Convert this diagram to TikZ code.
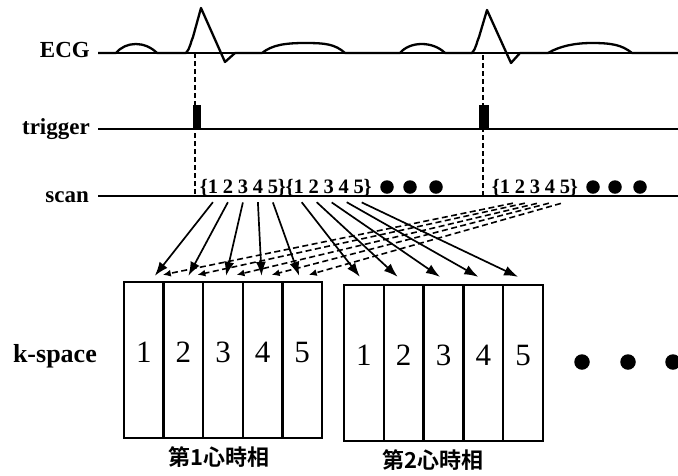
\documentclass[tikz,border=0pt]{standalone}
\usepackage{fontspec}
\setmainfont{Liberation Serif}
\newfontfamily\cjk{Noto Sans CJK JP}[BoldFont={Noto Sans CJK JP Bold}]
\usetikzlibrary{arrows.meta,calc}
\begin{document}
\begin{tikzpicture}[x=1pt,y=-1pt,
  axis/.style={line width=2pt},
  wave/.style={line width=2.3pt, line join=round},
  vdash/.style={line width=1.5pt, dash pattern=on 5pt off 3pt},
  lbl/.style={font=\fontsize{23}{26}\selectfont\bfseries, inner sep=0pt, anchor=base east},
  dig/.style={font=\fontsize{20.5}{24}\selectfont\bfseries, inner xsep=0pt, inner ysep=9pt, anchor=base},
  sarrow/.style={line width=1.7pt, -{Latex[length=14pt,width=10pt]}},
  darrow/.style={line width=1.6pt, dash pattern=on 6pt off 3.5pt, -{Latex[length=8pt,width=7pt]}},
  col/.style={draw, line width=2.3pt, minimum width=39.6pt, minimum height=156pt, inner sep=0pt},
  kdig/.style={font=\fontsize{31}{34}\selectfont, inner sep=0pt},
  cj/.style={font=\cjk\bfseries\fontsize{22}{24}\selectfont, inner sep=0pt},
  pulse/.style={fill, inner sep=0pt, minimum height=24pt, anchor=south},
  blob/.style={circle, fill, inner sep=0pt, minimum size=14pt}]
\useasboundingbox (0,0) rectangle (678,475);

% labels
\node[lbl] (lecg) at (90,57) {ECG};
\node[lbl] (ltrig) at (90,134) {trigger};
\node[lbl] (lscan) at (89,202) {scan};
\node[lbl, font=\fontsize{26}{30}\selectfont\bfseries] (lk) at (97,362) {k-space};

% ECG
\draw[axis] (98,53) -- (678,53);
\draw[wave] (98,53) -- (116,53) .. controls (126,41) and (145,41) .. (157,53)
  -- (186,53) .. controls (190,49) and (191,41) .. (193,37) -- (201,8) -- (225,62) -- (235,53)
  -- (262,53) .. controls (272,45) and (285,43) .. (305,43) .. controls (325,43) and (335,44) .. (345,53)
  -- (400,53) .. controls (410,41) and (433,41) .. (445,53)
  -- (472,53) .. controls (476,49) and (477,41) .. (479,37) -- (487,10) -- (511,63) -- (520,53)
  -- (548,53) .. controls (560,46) and (575,43) .. (592,43) .. controls (612,43) and (622,45) .. (632,53)
  -- (678,53);

% trigger
\draw[axis] (98,129) -- (678,129);
\node[pulse, minimum width=8pt] (tr1) at (197,129) {};
\node[pulse, minimum width=10pt] (tr2) at (484,129) {};

% scan
\draw[axis] (98,196) -- (678,196);
\draw[vdash] (195,53) -- (195,196);
\draw[vdash] (483,55) -- (483,196);

\node[dig] (oa) at (204,193) {\{};
\foreach \i in {1,...,5} \node[dig] (a\i) at ({197.9+15*\i},193) {\i};
\node[dig] (ca) at (281.8,193) {\}};
\node[dig] (ob) at (289.7,193) {\{};
\foreach \i in {1,...,5} \node[dig] (b\i) at ({283.7+15*\i},193) {\i};
\node[dig] (cb) at (367.7,193) {\}};
\node[dig] (oc) at (495.9,193) {\{};
\foreach \i in {1,...,5} \node[dig] (c\i) at ({489.9+15*\i},193) {\i};
\node[dig] (cc) at (573.9,193) {\}};

\node[blob, minimum size=13.5pt] (s1) at (387,187) {};
\node[blob, minimum size=13.5pt] (s2) at (410,187) {};
\node[blob, minimum size=13.5pt] (s3) at (436,187) {};
\node[blob, minimum size=13.5pt] (s4) at (593,187) {};
\node[blob, minimum size=13.5pt] (s5) at (615,187) {};
\node[blob, minimum size=13.5pt] (s6) at (640,187) {};

% k-space
\foreach \i in {1,...,5} {
  \node[col] (k\i) at ({124+39.6*(\i-0.5)},360) {};
  \node[kdig] (kd\i) at ($(k\i.center)+(0,-8)$) {\i};
  \node[col, minimum width=39.8pt] (m\i) at ({344+39.8*(\i-0.5)},363) {};
  \node[kdig] (md\i) at ($(m\i.center)+(0,-8)$) {\i};
}
\node[blob, minimum size=15.5pt] (e1) at (582,362) {};
\node[blob, minimum size=15.5pt] (e2) at (628,362) {};
\node[blob, minimum size=15.5pt] (e3) at (673,362) {};

\node[cj] (p1) at (219,457) {第1心時相};
\node[cj] (p2) at (433,460) {第2心時相};

% arrows
\foreach \i/\dx in {1/11,2/5,3/3,4/-1,5/-3}
  \draw[sarrow] (a\i.south) -- ($(k\i.north)+(\dx,-5)$);
\foreach \i/\dx in {1/-4,2/-6,3/-3.5,4/-5,5/-5}
  \draw[sarrow] ([xshift=3pt]b\i.south) -- ($(m\i.north)+(\dx,-7)$);
\foreach \i/\sx/\dx in {1/8/19,2/5/14,3/2/13.5,4/-1/9,5/-4/6.5}
  \draw[darrow] ($(c\i.south)+(\sx,1)$) -- ($(k\i.north)+(\dx,-6)$);
\end{tikzpicture}
\end{document}
